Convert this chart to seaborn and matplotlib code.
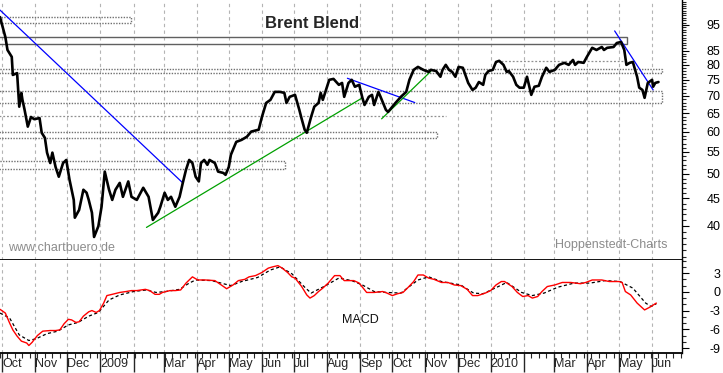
import pandas as pd
import matplotlib
matplotlib.use('Agg')
import matplotlib.pyplot as plt
import matplotlib.dates as mdates
import matplotlib.ticker as mticker
from matplotlib.patches import Rectangle
from matplotlib.transforms import ScaledTranslation
import seaborn as sns

sns.set_style('white')
plt.rcParams['font.family'] = ['Liberation Sans', 'DejaVu Sans']

# Brent price (USD)
PRICE_DATES = [
    '2008-09-29', '2008-10-04', '2008-10-06', '2008-10-10', '2008-10-11', '2008-10-15', '2008-10-16',
    '2008-10-17', '2008-10-19', '2008-10-20', '2008-10-22', '2008-10-25', '2008-10-28', '2008-10-31',
    '2008-11-05', '2008-11-07', '2008-11-10', '2008-11-12', '2008-11-15', '2008-11-17', '2008-11-20',
    '2008-11-23', '2008-11-27', '2008-11-30',
    '2008-12-03', '2008-12-07', '2008-12-08', '2008-12-12', '2008-12-16', '2008-12-19', '2008-12-21',
    '2008-12-24', '2008-12-26', '2008-12-30',
    '2009-01-02', '2009-01-05', '2009-01-09', '2009-01-12', '2009-01-15', '2009-01-19', '2009-01-22',
    '2009-01-27', '2009-01-30',
    '2009-02-04', '2009-02-10', '2009-02-15', '2009-02-19', '2009-02-24', '2009-02-26',
    '2009-03-02', '2009-03-05', '2009-03-08', '2009-03-12', '2009-03-16', '2009-03-19', '2009-03-22',
    '2009-03-25', '2009-03-28', '2009-03-31',
    '2009-04-03', '2009-04-05', '2009-04-08', '2009-04-11', '2009-04-13', '2009-04-18', '2009-04-21',
    '2009-04-26', '2009-04-28',
    '2009-05-01', '2009-05-03', '2009-05-08', '2009-05-13', '2009-05-18', '2009-05-22', '2009-05-29',
    '2009-06-01', '2009-06-05', '2009-06-09', '2009-06-13', '2009-06-18', '2009-06-22', '2009-06-24',
    '2009-06-27',
    '2009-07-02', '2009-07-06', '2009-07-08', '2009-07-11', '2009-07-13', '2009-07-17', '2009-07-20',
    '2009-07-24', '2009-07-26', '2009-07-28', '2009-07-31',
    '2009-08-03', '2009-08-07', '2009-08-12', '2009-08-15', '2009-08-17', '2009-08-21', '2009-08-24',
    '2009-08-27', '2009-08-31',
    '2009-09-03', '2009-09-05', '2009-09-09', '2009-09-12', '2009-09-14', '2009-09-18', '2009-09-20',
    '2009-09-25', '2009-09-27',
    '2009-10-01', '2009-10-04', '2009-10-09', '2009-10-14', '2009-10-17', '2009-10-21', '2009-10-25',
    '2009-10-30',
    '2009-11-04', '2009-11-06', '2009-11-11', '2009-11-15', '2009-11-17', '2009-11-20', '2009-11-23',
    '2009-11-26', '2009-11-29',
    '2009-12-02', '2009-12-06', '2009-12-09', '2009-12-11', '2009-12-15', '2009-12-18', '2009-12-21',
    '2009-12-25', '2009-12-27', '2009-12-30',
    '2010-01-03', '2010-01-06', '2010-01-09', '2010-01-13', '2010-01-16', '2010-01-18', '2010-01-22',
    '2010-01-25', '2010-01-28',
    '2010-02-01', '2010-02-04', '2010-02-08', '2010-02-11', '2010-02-15', '2010-02-18', '2010-02-22',
    '2010-02-25',
    '2010-03-02', '2010-03-06', '2010-03-11', '2010-03-15', '2010-03-19', '2010-03-21', '2010-03-24',
    '2010-03-29',
    '2010-04-01', '2010-04-06', '2010-04-10', '2010-04-15', '2010-04-17', '2010-04-20', '2010-04-26',
    '2010-04-29',
    '2010-05-03', '2010-05-06', '2010-05-08', '2010-05-11', '2010-05-14', '2010-05-18', '2010-05-20',
    '2010-05-23', '2010-05-25', '2010-05-28',
    '2010-06-01', '2010-06-02', '2010-06-04', '2010-06-07',
]
PRICE_VALUES = [
    98.3, 90.2, 85.3, 82.8, 76.6, 77.2, 71.8, 66.8, 70.9, 68.8, 65.9, 61.3, 63.9, 63.3,
    63.6, 59.7, 58.4, 54.8, 52.4, 54.8, 51.5, 49.4, 52.4, 53.1,
    48.8, 44.7, 41.4, 42.8, 46.7, 46.1, 44.7, 42.3, 38.1, 39.9,
    43.4, 50.5, 46.7, 44.7, 46.7, 48.1, 45.3, 48.4, 45.3,
    44.7, 47.1, 45.3, 41.0, 42.3, 43.4,
    46.1, 44.7, 45.3, 43.4, 45.3, 48.1, 50.9, 53.1, 52.4, 49.4,
    48.4, 52.4, 53.1, 52.0, 53.1, 52.4, 50.5, 50.2, 49.8,
    51.5, 54.3, 57.4, 57.9, 58.7, 60.0, 60.5,
    63.9, 67.9, 68.8, 71.2, 71.2, 70.9, 67.9, 69.7,
    70.3, 65.9, 63.6, 60.5, 59.7, 63.9, 66.8, 67.9, 70.9, 68.8, 71.8,
    75.0, 75.3, 73.4, 74.0, 69.7, 74.0, 75.0, 72.8, 73.4,
    69.4, 67.3, 69.7, 70.3, 67.3, 71.2, 69.7, 65.9, 65.3,
    66.8, 67.9, 69.7, 71.2, 75.0, 78.3, 79.3, 78.3,
    77.6, 78.3, 77.9, 76.0, 78.3, 80.0, 78.3, 77.6, 76.0,
    79.3, 79.0, 76.0, 74.0, 71.8, 72.5, 74.3, 73.4, 76.6, 77.9,
    78.3, 81.0, 81.4, 80.0, 77.6, 77.9, 76.0, 73.4, 72.5,
    72.5, 76.0, 70.3, 72.8, 73.1, 76.0, 79.0, 77.6,
    78.3, 80.0, 80.7, 80.0, 81.7, 80.0, 81.0, 80.7,
    82.8, 86.1, 85.3, 86.4, 85.3, 86.1, 86.4, 87.9,
    88.3, 85.3, 80.0, 80.7, 81.0, 76.0, 72.5, 71.8, 69.4, 74.0,
    75.0, 72.8, 74.0, 74.3,
]

# MACD line (red)
MACD_DATES = [
    '2008-09-29', '2008-10-04', '2008-10-08', '2008-10-11', '2008-10-15', '2008-10-19', '2008-10-24',
    '2008-10-26', '2008-10-29', '2008-11-03', '2008-11-08', '2008-11-15', '2008-11-20', '2008-11-24',
    '2008-11-28', '2008-12-02', '2008-12-05', '2008-12-09', '2008-12-12', '2008-12-16', '2008-12-21',
    '2008-12-24', '2008-12-28', '2008-12-31',
    '2009-01-04', '2009-01-07', '2009-01-12', '2009-01-19', '2009-01-25', '2009-01-30',
    '2009-02-04', '2009-02-12', '2009-02-16', '2009-02-21', '2009-02-25', '2009-02-28',
    '2009-03-07', '2009-03-12', '2009-03-17', '2009-03-22', '2009-03-28',
    '2009-04-02', '2009-04-09', '2009-04-18', '2009-04-24', '2009-04-29',
    '2009-05-05', '2009-05-10', '2009-05-16', '2009-05-20', '2009-05-26',
    '2009-06-01', '2009-06-07', '2009-06-11', '2009-06-16', '2009-06-20', '2009-06-25', '2009-06-29',
    '2009-07-02', '2009-07-08', '2009-07-13', '2009-07-16', '2009-07-20', '2009-07-24', '2009-07-28',
    '2009-08-02', '2009-08-08', '2009-08-13', '2009-08-17', '2009-08-26', '2009-08-31',
    '2009-09-07', '2009-09-14', '2009-09-22', '2009-09-26',
    '2009-10-01', '2009-10-06', '2009-10-11', '2009-10-16', '2009-10-21', '2009-10-25', '2009-10-30',
    '2009-11-04', '2009-11-09', '2009-11-16', '2009-11-22', '2009-11-28',
    '2009-12-04', '2009-12-10', '2009-12-15', '2009-12-20', '2009-12-27',
    '2010-01-01', '2010-01-06', '2010-01-11', '2010-01-14', '2010-01-21', '2010-01-26', '2010-01-31',
    '2010-02-05', '2010-02-09', '2010-02-14', '2010-02-18', '2010-02-23',
    '2010-03-02', '2010-03-09', '2010-03-17', '2010-03-26', '2010-03-31',
    '2010-04-06', '2010-04-15', '2010-04-22',
    '2010-05-01', '2010-05-04', '2010-05-07', '2010-05-12', '2010-05-18', '2010-05-25', '2010-05-30',
    '2010-06-05',
]
MACD_VALUES = [
    -2.8, -3.4, -5.0, -6.1, -7.1, -7.9, -8.2, -8.6, -8.1, -7.0, -6.3, -6.2, -6.2, -6.1,
    -5.1, -4.4, -4.5, -4.9, -4.8, -3.9, -3.2, -3.0, -3.3, -3.0,
    -1.8, -0.6, -0.4, -0.1, 0.05, 0.2,
    0.2, 0.4, 0.2, -0.4, -0.4, -0.1,
    0.2, 0.2, 0.3, 1.4, 2.4,
    1.9, 1.9, 1.8, 1.1, 0.5,
    1.1, 1.8, 2.0, 2.4, 2.6,
    3.1, 3.8, 4.0, 4.2, 3.8, 3.1, 2.4,
    2.2, 0.9, -0.5, -1.0, -0.6, 0.05, 0.6,
    1.4, 2.6, 2.6, 1.8, 1.8, 1.4,
    -0.1, -0.1, 0.05, -0.2,
    -0.6, -0.3, -0.1, 0.75, 1.65, 2.7, 2.7,
    2.2, 2.0, 1.5, 1.5, 1.1,
    1.0, 0.4, -0.6, -0.6, -0.2,
    0.2, 1.1, 1.65, 1.65, 0.85, -0.1, -0.75,
    -0.6, -1.0, -0.75, 0.05, 0.85,
    1.1, 1.5, 1.5, 1.3, 1.5,
    1.9, 1.9, 1.65,
    1.65, 1.5, 0.05, -0.5, -1.8, -2.9, -2.45,
    -1.8,
]

# signal line (black dashed)
SIGNAL_DATES = [
    '2008-09-29', '2008-10-08', '2008-10-17', '2008-10-26', '2008-11-02', '2008-11-12', '2008-11-22',
    '2008-12-02', '2008-12-11', '2008-12-21', '2008-12-30',
    '2009-01-09', '2009-01-19', '2009-02-01', '2009-02-13', '2009-02-22', '2009-03-03', '2009-03-16',
    '2009-03-25', '2009-03-31', '2009-04-15', '2009-04-26', '2009-05-03', '2009-05-13', '2009-05-28',
    '2009-06-09', '2009-06-18', '2009-06-29', '2009-07-11', '2009-07-17', '2009-07-29', '2009-08-12',
    '2009-08-24', '2009-09-03', '2009-09-14', '2009-09-26', '2009-10-09', '2009-10-25', '2009-11-04',
    '2009-11-16', '2009-12-04', '2009-12-16', '2009-12-25',
    '2010-01-07', '2010-01-16', '2010-01-30', '2010-02-09', '2010-02-20', '2010-03-05', '2010-03-20',
    '2010-04-04', '2010-04-18', '2010-05-02', '2010-05-14', '2010-05-26', '2010-05-31', '2010-06-05',
]
SIGNAL_VALUES = [
    -3.4, -4.2, -6.9, -7.8, -7.5, -6.7, -6.3, -5.3, -4.9, -3.9, -3.3,
    -1.3, -0.5, 0.05, 0.3, -0.1, 0.05, 0.4, 1.4, 1.9, 1.8, 1.3, 1.0, 1.65, 2.3,
    3.5, 4.0, 2.9, 0.75, -0.2, 0.85, 2.2, 1.8, 1.1, 0.05, -0.1, -0.2, 1.9, 2.4,
    1.65, 1.1, -0.2, -0.3,
    0.75, 1.5, -0.1, -0.6, -0.2, 0.75, 1.4, 1.4, 1.8, 1.65, 0.6, -1.8, -2.35, -1.9,
]

# drawn trend lines: start date, start price, end date, end price, colour
TREND_LINES = [
    ('2008-09-29', 101.3, '2009-03-19', 48.1, '#0000ff'),
    ('2009-02-13', 39.7, '2009-09-03', 69.4, '#00a000'),
    ('2009-08-20', 75.5, '2009-10-22', 68.0, '#0000ff'),
    ('2009-09-21', 63.4, '2009-11-06', 77.8, '#00a000'),
    ('2010-04-27', 92.6, '2010-06-02', 71.8, '#0000ff'),
]

# support / resistance boxes: start, end, low, high, solid outline?
ZONES = [
    ('2008-09-20', '2009-01-30', 95.8, 98.3, False),
    ('2008-09-20', '2010-05-09', 87.5, 90.2, True),
    ('2008-09-20', '2010-06-10', 77.3, 78.6, False),
    ('2008-09-20', '2010-06-10', 67.9, 71.5, False),
    ('2008-09-20', '2009-11-12', 58.4, 59.95, False),
    ('2008-09-20', '2009-06-23', 51.1, 52.9, False),
]
# single horizontal marks: start, end, price
LEVELS = [
    ('2008-09-20', '2009-11-20', 64.2),
    ('2010-01-11', '2010-05-06', 81.4),
]

PRICE_TICKS = [40, 45, 50, 55, 60, 65, 70, 75, 80, 85, 95]
MACD_TICKS = [-9, -6, -3, 0, 3]
MONTH_TICKS = ['2008-10-01', '2008-11-01', '2008-12-01', '2009-01-01', '2009-02-01', '2009-03-01',
               '2009-04-01', '2009-05-01', '2009-06-01', '2009-07-01', '2009-08-01', '2009-09-01',
               '2009-10-01', '2009-11-01', '2009-12-01', '2010-01-01', '2010-02-01', '2010-03-01',
               '2010-04-01', '2010-05-01', '2010-06-01']
MONTH_LABELS = ['Oct', 'Nov', 'Dec', '2009', '', 'Mar', 'Apr', 'May', 'Jun', 'Jul', 'Aug', 'Sep',
                'Oct', 'Nov', 'Dec', '2010', '', 'Mar', 'Apr', 'May', 'Jun']


def d(s):
    return mdates.date2num(pd.Timestamp(s))


price_df = pd.DataFrame({'date': pd.to_datetime(PRICE_DATES), 'price': PRICE_VALUES})
macd_df = pd.DataFrame({'date': pd.to_datetime(MACD_DATES), 'macd': MACD_VALUES})
signal_df = pd.DataFrame({'date': pd.to_datetime(SIGNAL_DATES), 'signal': SIGNAL_VALUES})

W, H = 723, 373
fig = plt.figure(figsize=(W / 100, H / 100), dpi=100)
ax = fig.add_axes([0, 113 / H, 682 / W, 260 / H])
axm = fig.add_axes([0, 20 / H, 682 / W, 93 / H], sharex=ax)

# ---- price panel
ax.set_yscale('log')
for start, end, lo, hi, solid in ZONES:
    ax.add_patch(Rectangle((d(start), lo), d(end) - d(start), hi - lo, fill=False,
                           edgecolor='#606060' if solid else '#707070', linewidth=1.0,
                           linestyle='-' if solid else (0, (1, 1)), zorder=2))
for start, end, y in LEVELS:
    ax.hlines(y, d(start), d(end), colors='#909090', linewidth=0.9, linestyles=(0, (1.5, 1.5)), zorder=2)
for s0, y0, s1, y1, col in TREND_LINES:
    ax.plot([d(s0), d(s1)], [y0, y1], color=col, linewidth=0.9, zorder=3)

sns.lineplot(data=price_df, x='date', y='price', ax=ax, color='black', linewidth=1.9,
             estimator=None, sort=False, zorder=5)

ax.set_ylim(34.5, 105.8)
ax.set_yticks(PRICE_TICKS, labels=[str(v) for v in PRICE_TICKS], ha='right')
ax.yaxis.set_minor_locator(mticker.FixedLocator(range(35, 106)))
ax.yaxis.set_minor_formatter(mticker.NullFormatter())

ax.text(312 / 682, 1 - 24 / 260, 'Brent Blend', transform=ax.transAxes, ha='center', va='center',
        fontsize=12, fontweight='bold')
ax.text(8 / 682, 1 - 248 / 260, 'www.chartbuero.de', transform=ax.transAxes, ha='left', va='center',
        fontsize=9, color='#8c8c8c')
ax.text(667 / 682, 1 - 245 / 260, 'Hoppenstedt-Charts', transform=ax.transAxes, ha='right',
        va='center', fontsize=9, color='#8c8c8c')

# ---- MACD panel
sns.lineplot(data=signal_df, x='date', y='signal', ax=axm, color='black', linewidth=0.9,
             dashes=False, estimator=None, sort=False, zorder=3).lines[-1].set_dashes([2.5, 2])
sns.lineplot(data=macd_df, x='date', y='macd', ax=axm, color='#ff0000', linewidth=1.0,
             estimator=None, sort=False, zorder=4)
axm.set_ylim(-9.8, 5.1)
axm.set_yticks(MACD_TICKS, labels=[str(v) for v in MACD_TICKS], ha='right')
axm.yaxis.set_minor_locator(mticker.FixedLocator(range(-9, 6)))
axm.yaxis.set_minor_formatter(mticker.NullFormatter())
axm.text(360 / 682, 33 / 93, 'MACD', transform=axm.transAxes, ha='center', va='center',
         fontsize=9, color='#111111')

# ---- shared styling
axm.set_xlim(pd.Timestamp('2008-09-29'), pd.Timestamp('2010-06-29'))
axm.set_xticks(pd.to_datetime(MONTH_TICKS), labels=MONTH_LABELS, ha='left')
axm.xaxis.set_minor_locator(mdates.WeekdayLocator(byweekday=mdates.MO))
shift = ScaledTranslation(2.5 / 72, 0, fig.dpi_scale_trans)
for lbl in axm.get_xticklabels():
    lbl.set_transform(lbl.get_transform() + shift)

for a in (ax, axm):
    a.set_xlabel('')
    a.set_ylabel('')
    a.yaxis.tick_right()
    a.tick_params(axis='y', which='major', direction='out', length=5, width=0.8,
                  pad=22.5, labelsize=9, colors='black')
    a.tick_params(axis='y', which='minor', direction='out', length=3, width=0.8, right=True)
    a.grid(axis='x', which='major', color='#b4b4b4', linestyle=(0, (3, 3)), linewidth=0.8)
    a.grid(axis='y', visible=False)
    a.grid(axis='x', which='minor', visible=False)
    for side in ('top', 'left'):
        a.spines[side].set_visible(False)
    a.spines['right'].set_color('black')
    a.spines['right'].set_linewidth(1.0)
    a.spines['bottom'].set_color('black')
    a.spines['bottom'].set_linewidth(1.3)
    a.set_facecolor('white')

ax.tick_params(axis='x', which='both', bottom=False, labelbottom=False)
axm.tick_params(axis='x', which='major', direction='out', length=13.5, width=1.0,
                pad=-10.0, labelsize=9, bottom=True)
axm.tick_params(axis='x', which='minor', direction='out', length=3.5, width=0.8, bottom=True)

fig.savefig('out.png', dpi=100)
